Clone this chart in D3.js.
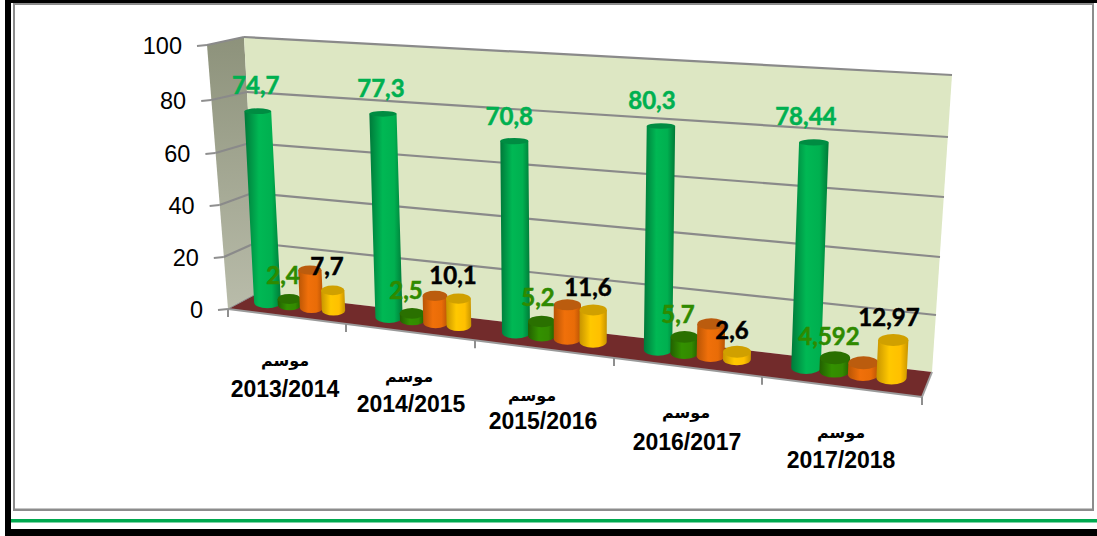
<!DOCTYPE html>
<html><head><meta charset="utf-8">
<script src="https://cdn.jsdelivr.net/npm/d3@7"></script>
<style>html,body{margin:0;padding:0;background:#fff;overflow:hidden}svg{display:block}</style>
</head><body><svg id="c" width="1097" height="536"></svg>
<script>
const categories = ["2013/2014","2014/2015","2015/2016","2016/2017","2017/2018"];
const seasonWord = "موسم";
const seriesA = [74.7,77.3,70.8,80.3,78.44];
const seriesB = [2.4,2.5,5.2,5.7,4.592];
const seriesC = [14.6,10.1,12.4,11.4,4.0];
const seriesD = [7.7,10.1,11.6,2.6,12.97];
const labelsA = ["74,7","77,3","70,8","80,3","78,44"];
const labelsB = ["2,4","2,5","5,2","5,7","4,592"];
const labelsD = ["7,7","10,1","11,6","2,6","12,97"];
const yTicks = [0,20,40,60,80,100];

const svg = d3.select("#c");
const defs = svg.append("defs");
const gridVals = yTicks;
// perspective-fitted axes
const frontLeftX = d3.scaleLinear().domain([0,100]).range([228,207]);
const frontLeftY = d3.scaleLinear().domain(gridVals).range([309,257,205,153,100,45]);
const backLeftX  = d3.scaleLinear().domain([0,100]).range([258,244]);
const backLeftY  = d3.scaleLinear().domain(gridVals).range([293,243,193,143,92,37]);
const backRightX = d3.scaleLinear().domain([0,100]).range([932,952]);
const backRightY = d3.scaleLinear().domain(gridVals).range([372,315,257,197,137,75]);
const catIdx = [0,1,2,3,4,5];
const frontX = d3.scaleLinear().domain(catIdx).range([228,346,475,614,762,922]);
const frontY = d3.scaleLinear().domain([228,922]).range([309,397]);
// bar base positions on the mid plane of the floor
const groupX = d3.scaleLinear().domain([0,1,2,3,4]).range([267.5,389,516,658,806]);
const stepX  = d3.scaleLinear().domain([0,1,2,3,4]).range([22,23.3,25.7,26.3,28.5]);
const baseY  = d3.scaleLinear().domain([268,806]).range([302.5,367.5]);
const pxPerUnit = d3.scaleLinear().domain([268,806]).range([2.56,2.87]);
const lean = d3.scaleLinear().domain([268,806]).range([-0.13,0.10]);
const tallRadius = [13.4,13.6,14,14.2,14.8];

// frame
const rect=(x,y,w,h,f)=>svg.append("rect").attr("x",x).attr("y",y).attr("width",w).attr("height",h).attr("fill",f);
rect(5,0,1092,3,"#000");
rect(5,0,6,536,"#000");
rect(5,529,1092,7,"#000");
rect(11,519,1086,3.5,"#00a94f");
rect(13,3,2,508,"#8c8c8c");
rect(13,3,1081,2,"#8c8c8c");
rect(1092,3,2,508,"#8c8c8c");
rect(13,508.5,1081,2.5,"#8c8c8c");

const poly=(pts,f)=>svg.append("polygon").attr("points",pts.map(p=>p.join(",")).join(" ")).attr("fill",f);
const line=(a,b,c,w)=>svg.append("line").attr("x1",a[0]).attr("y1",a[1]).attr("x2",b[0]).attr("y2",b[1]).attr("stroke",c).attr("stroke-width",w);
const FL=v=>[frontLeftX(v),frontLeftY(v)], BL=v=>[backLeftX(v),backLeftY(v)], BR=v=>[backRightX(v),backRightY(v)];

// side wall
const sg=defs.append("linearGradient").attr("id","side").attr("x1",0).attr("y1",0).attr("x2",0).attr("y2",1);
sg.append("stop").attr("offset",0).attr("stop-color","#8d927b");
sg.append("stop").attr("offset",1).attr("stop-color","#b9bcaa");
poly([FL(100),BL(100),BL(0),FL(0)],"url(#side)");
// back wall
poly([BL(100),BR(100),BR(0),BL(0)],"#dde7c3");
// gridlines
yTicks.filter(v=>v>0).forEach(v=>{
  line(FL(v),BL(v),"#8a8a8a",2.2);
  line(BL(v),BR(v),"#8a8a8a",2.2);
});
// floor
const frontRight=[frontX(5),frontY(frontX(5))];
poly([FL(0),BL(0),BR(0),[frontRight[0],frontRight[1]]],"#722b2b");
// axis lines and ticks
line(FL(0),frontRight,"#9a9a9a",2);
line(BL(0),FL(0),"#8f8f8f",1);
line(BR(0),frontRight,"#a0a0a0",2);
yTicks.forEach(v=>line([frontLeftX(v)-10,frontLeftY(v)+1],FL(v),"#8f8f8f",2));
catIdx.forEach(i=>{const x=frontX(i),y=frontY(x);line([x,y],[x,y+8],"#8f8f8f",2);});

const axisFont="'Liberation Sans',Arial,sans-serif";
yTicks.forEach(v=>svg.append("text").attr("x",frontLeftX(v)-25).attr("y",frontLeftY(v)+9)
  .attr("text-anchor","end").attr("font-family",axisFont).attr("font-size",23.5).attr("fill","#000").text(v));

// cylinders
const series=[
 {name:"a",vals:seriesA,side:["#00793a","#00b854","#00b050","#007a38"],top:"#008c42"},
 {name:"b",vals:seriesB,side:["#235f00","#339100","#338a00","#235f00"],top:"#2a7000"},
 {name:"c",vals:seriesC,side:["#b85405","#f0700a","#e96c07","#b85405"],top:"#bb5c0e"},
 {name:"d",vals:seriesD,side:["#c79400","#ffc800","#ffc000","#c79400"],top:"#d0a000"}
];
series.forEach(s=>{
  const g=defs.append("linearGradient").attr("id","cyl"+s.name).attr("x1",0).attr("x2",1).attr("y1",0).attr("y2",0);
  [0,.4,.75,1].forEach((o,i)=>g.append("stop").attr("offset",o).attr("stop-color",s.side[i]));
});
const tops=series.map(()=>[]);
series.forEach((s,si)=>{
  s.vals.forEach((v,ci)=>{
    const step=stepX(ci), bx=groupX(ci)+si*step, by=baseY(bx);
    const rx=si===0?tallRadius[ci]:step*0.53;
    const tx=bx+lean(bx)*v, ty=by-pxPerUnit(bx)*v;
    const ryB=rx*0.44, ryT=rx*(0.44-0.003*v);
    tops[si][ci]=[tx,ty];
    const d=`M${tx-rx},${ty} L${bx-rx},${by} A${rx},${ryB} 0 0 0 ${bx+rx},${by} L${tx+rx},${ty} Z`;
    svg.append("path").attr("d",d).attr("fill",`url(#cyl${s.name})`);
    svg.append("ellipse").attr("cx",tx).attr("cy",ty).attr("rx",rx).attr("ry",ryT).attr("fill",s.top);
  });
});

// data labels
const labelFont="Lato,'Open Sans',sans-serif";
const label=(t,x,y,c)=>svg.append("text").attr("x",x).attr("y",y).attr("text-anchor","middle")
  .attr("font-family",labelFont).attr("font-weight",700).attr("font-size",24).attr("fill",c)
  .attr("stroke",c).attr("stroke-width",0.5).text(t);
const nudgeA=[[-2,-17],[-2,-17],[-5,-16],[-9,-17],[-8,-17]];
labelsA.forEach((t,i)=>label(t,tops[0][i][0]+nudgeA[i][0],tops[0][i][1]+nudgeA[i][1],"#00b050"));
const labelBPos=[[283,284],[406,299],[538,306],[678,323],[829,345]];
const labelDPos=[[327,275],[453,284],[588,296],[732,339],[889,326]];
labelsB.forEach((t,i)=>label(t,labelBPos[i][0],labelBPos[i][1],"#2f8a00"));
labelsD.forEach((t,i)=>label(t,labelDPos[i][0],labelDPos[i][1],"#000"));

// category labels
const wordPos=[[285,366],[409,382],[532,401],[686,418],[841,438]];
const yearPos=[[285,397],[411,412],[543,429],[687,450],[841,468]];
categories.forEach((c,i)=>{
  svg.append("text").attr("x",wordPos[i][0]).attr("y",wordPos[i][1]).attr("text-anchor","middle")
    .attr("direction","rtl").attr("font-family","'DejaVu Sans',sans-serif").attr("font-weight",700).attr("font-size",16).attr("fill","#000").text(seasonWord);
  svg.append("text").attr("x",yearPos[i][0]).attr("y",yearPos[i][1]).attr("text-anchor","middle")
    .attr("font-family",axisFont).attr("font-weight",700).attr("font-size",23).attr("fill","#000").text(c);
});
</script></body></html>
